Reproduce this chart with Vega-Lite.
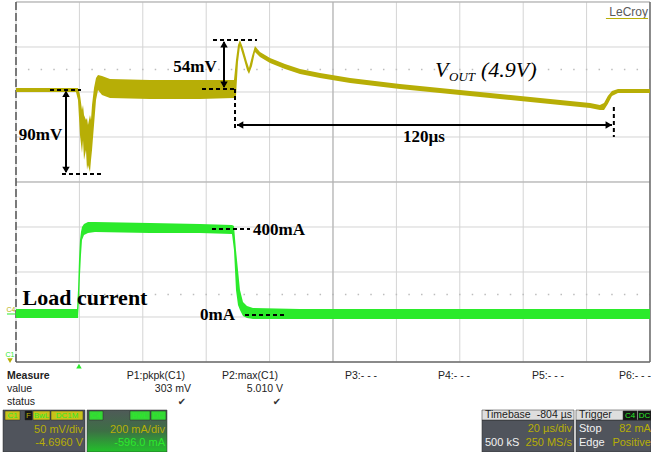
{
  "$schema": "https://vega.github.io/schema/vega-lite/v6.json",
  "width": 651,
  "height": 452,
  "padding": 0,
  "autosize": {"type": "none"},
  "background": "white",
  "config": {"view": {"stroke": null}},
  "datasets": {
    "trace": [
      {"ch":"C1","t":0,"hi":6.089,"lo":6.0},
      {"ch":"C1","t":18.93,"hi":6.089,"lo":6.0},
      {"ch":"C1","t":19.56,"hi":6.089,"lo":5.822},
      {"ch":"C1","t":20.19,"hi":5.933,"lo":5.044},
      {"ch":"C1","t":20.82,"hi":5.6,"lo":4.644},
      {"ch":"C1","t":21.14,"hi":5.711,"lo":4.933},
      {"ch":"C1","t":21.45,"hi":5.489,"lo":4.489},
      {"ch":"C1","t":22.08,"hi":5.378,"lo":4.711},
      {"ch":"C1","t":22.4,"hi":5.422,"lo":4.267},
      {"ch":"C1","t":22.71,"hi":5.267,"lo":4.378},
      {"ch":"C1","t":23.34,"hi":5.489,"lo":4.222},
      {"ch":"C1","t":23.66,"hi":5.378,"lo":4.489},
      {"ch":"C1","t":23.98,"hi":5.711,"lo":4.711},
      {"ch":"C1","t":24.61,"hi":6.089,"lo":5.267},
      {"ch":"C1","t":25.24,"hi":6.311,"lo":5.822},
      {"ch":"C1","t":25.87,"hi":6.378,"lo":6.044},
      {"ch":"C1","t":27.13,"hi":6.356,"lo":5.933},
      {"ch":"C1","t":29.65,"hi":6.289,"lo":5.867},
      {"ch":"C1","t":42.27,"hi":6.267,"lo":5.844},
      {"ch":"C1","t":58.04,"hi":6.267,"lo":5.844},
      {"ch":"C1","t":68.77,"hi":6.267,"lo":5.867},
      {"ch":"C1","t":69.4,"hi":6.711,"lo":5.911},
      {"ch":"C1","t":70.03,"hi":7.044,"lo":6.667},
      {"ch":"C1","t":70.66,"hi":7.156,"lo":7.022},
      {"ch":"C1","t":71.61,"hi":6.978,"lo":6.8},
      {"ch":"C1","t":72.87,"hi":6.667,"lo":6.489},
      {"ch":"C1","t":73.5,"hi":6.533,"lo":6.4},
      {"ch":"C1","t":74.45,"hi":6.8,"lo":6.578},
      {"ch":"C1","t":75.39,"hi":7.022,"lo":6.889},
      {"ch":"C1","t":76.97,"hi":6.889,"lo":6.778},
      {"ch":"C1","t":80.13,"hi":6.756,"lo":6.644},
      {"ch":"C1","t":84.86,"hi":6.622,"lo":6.511},
      {"ch":"C1","t":89.6,"hi":6.511,"lo":6.4},
      {"ch":"C1","t":95.9,"hi":6.422,"lo":6.311},
      {"ch":"C1","t":105.4,"hi":6.311,"lo":6.2},
      {"ch":"C1","t":121.1,"hi":6.178,"lo":6.067},
      {"ch":"C1","t":136.9,"hi":6.067,"lo":5.956},
      {"ch":"C1","t":152.7,"hi":5.956,"lo":5.844},
      {"ch":"C1","t":168.5,"hi":5.844,"lo":5.733},
      {"ch":"C1","t":181.1,"hi":5.756,"lo":5.644},
      {"ch":"C1","t":184.2,"hi":5.711,"lo":5.6},
      {"ch":"C1","t":185.5,"hi":5.756,"lo":5.6},
      {"ch":"C1","t":186.7,"hi":5.911,"lo":5.733},
      {"ch":"C1","t":188.0,"hi":6.022,"lo":5.911},
      {"ch":"C1","t":189.9,"hi":6.067,"lo":5.978},
      {"ch":"C1","t":200,"hi":6.067,"lo":5.978},
      {"ch":"C4","t":0,"hi":1.178,"lo":0.978},
      {"ch":"C4","t":19.24,"hi":1.178,"lo":0.978},
      {"ch":"C4","t":19.56,"hi":1.6,"lo":0.978},
      {"ch":"C4","t":19.87,"hi":2.267,"lo":1.378},
      {"ch":"C4","t":20.19,"hi":2.711,"lo":1.933},
      {"ch":"C4","t":20.5,"hi":2.889,"lo":2.378},
      {"ch":"C4","t":20.82,"hi":3.0,"lo":2.711},
      {"ch":"C4","t":21.45,"hi":3.067,"lo":2.822},
      {"ch":"C4","t":22.71,"hi":3.111,"lo":2.867},
      {"ch":"C4","t":24.92,"hi":3.111,"lo":2.889},
      {"ch":"C4","t":42.27,"hi":3.089,"lo":2.867},
      {"ch":"C4","t":58.04,"hi":3.067,"lo":2.867},
      {"ch":"C4","t":68.14,"hi":3.044,"lo":2.844},
      {"ch":"C4","t":68.77,"hi":3.022,"lo":2.489},
      {"ch":"C4","t":69.4,"hi":2.489,"lo":1.6},
      {"ch":"C4","t":70.03,"hi":2.044,"lo":1.267},
      {"ch":"C4","t":70.66,"hi":1.6,"lo":1.156},
      {"ch":"C4","t":71.61,"hi":1.333,"lo":1.022},
      {"ch":"C4","t":72.87,"hi":1.244,"lo":0.978},
      {"ch":"C4","t":74.76,"hi":1.2,"lo":0.956},
      {"ch":"C4","t":89.59,"hi":1.178,"lo":0.956},
      {"ch":"C4","t":200,"hi":1.178,"lo":0.956}
    ],
    "vgrid": [{"t":0},{"t":20},{"t":40},{"t":60},{"t":80},{"t":100},{"t":120},{"t":140},{"t":160},{"t":180},{"t":200}],
    "hgrid": [{"d":0},{"d":1},{"d":2},{"d":3},{"d":4},{"d":5},{"d":6},{"d":7},{"d":8}],
    "dots": [{"d":1.5},{"d":6.5}],
    "frame": [
      {"t1":0,"t2":200,"d1":8,"d2":8,"w":"light"},
      {"t1":100,"t2":100,"d1":0,"d2":8,"w":"light"},
      {"t1":0,"t2":200,"d1":4,"d2":4,"w":"light"},
      {"t1":200,"t2":200,"d1":0,"d2":8,"w":"dark"},
      {"t1":0,"t2":200,"d1":0,"d2":0,"w":"dark"}
    ],
    "dash": [
      {"t1":10.73,"t2":20.5,"d1":6.044,"d2":6.044},
      {"t1":14.51,"t2":27.45,"d1":4.178,"d2":4.178},
      {"t1":62.15,"t2":76.03,"d1":7.156,"d2":7.156},
      {"t1":58.68,"t2":69.09,"d1":6.067,"d2":6.067},
      {"t1":69.09,"t2":69.09,"d1":6.067,"d2":5.156},
      {"t1":188.6,"t2":188.6,"d1":5.667,"d2":5.0},
      {"t1":61.83,"t2":73.82,"d1":2.956,"d2":2.956},
      {"t1":72.24,"t2":84.86,"d1":1.044,"d2":1.044}
    ],
    "arrow": [
      {"t1":15.77,"t2":15.77,"d1":6.0,"d2":4.222},
      {"t1":65.62,"t2":65.62,"d1":7.111,"d2":6.111},
      {"t1":69.72,"t2":188.0,"d1":5.267,"d2":5.267}
    ],
    "head": [
      {"t":15.77,"d":5.96,"dir":"up"},
      {"t":15.77,"d":4.27,"dir":"down"},
      {"t":65.62,"d":7.06,"dir":"up"},
      {"t":65.62,"d":6.16,"dir":"down"},
      {"t":70.7,"d":5.267,"dir":"left"},
      {"t":187.0,"d":5.267,"dir":"right"}
    ],
    "notes": [
      {"kind":"b17c","t":7.73,"d":5.044,"text":"90mV"},
      {"kind":"b17c","t":56.47,"d":6.556,"text":"54mV"},
      {"kind":"b17c","t":128.71,"d":5.0,"text":"120µs"},
      {"kind":"b17c","t":63.57,"d":1.044,"text":"0mA"},
      {"kind":"b17l","t":74.76,"d":2.933,"text":"400mA"},
      {"kind":"b22c","t":21.77,"d":1.422,"text":"Load current"},
      {"kind":"i22l","t":132.18,"d":6.489,"text":"V"},
      {"kind":"i13l","t":136.6,"d":6.33,"text":"OUT"},
      {"kind":"i22l","t":146.7,"d":6.489,"text":"(4.9V)"}
    ],
    "marks": [
      {"kind":"lecroy","t":199.37,"d":7.778,"text":"LeCroy"},
      {"kind":"c4","t":-1.58,"d":1.156,"text":"C4"},
      {"kind":"c1","t":-1.89,"d":0.156,"text":"C1"}
    ],
    "smallrules": [
      {"t1":186.1,"t2":199.4,"d1":7.633,"d2":7.633,"c":"gray"},
      {"t1":-2.84,"t2":0,"d1":1.067,"d2":1.067,"c":"green"}
    ],
    "syms": [
      {"t":19.87,"d":-0.089,"c":"green","s":"up"},
      {"t":-1.89,"d":0.03,"c":"yellow","s":"down"}
    ],
    "boxes": [
      {"kind":"dark","t1":-4.1,"t2":21.77,"d1":-1.067,"d2":-2.0},
      {"kind":"dark","t1":147.0,"t2":176.03,"d1":-1.289,"d2":-2.0},
      {"kind":"dark","t1":176.66,"t2":200.32,"d1":-1.289,"d2":-2.0},
      {"kind":"head","t1":147.0,"t2":176.03,"d1":-1.067,"d2":-1.289},
      {"kind":"head","t1":176.66,"t2":200.32,"d1":-1.067,"d2":-1.289},
      {"kind":"tagY","t1":-3.47,"t2":1.26,"d1":-1.089,"d2":-1.289},
      {"kind":"tagK","t1":2.84,"t2":5.05,"d1":-1.089,"d2":-1.289},
      {"kind":"tagY","t1":5.36,"t2":10.73,"d1":-1.089,"d2":-1.289},
      {"kind":"tagY","t1":11.04,"t2":21.14,"d1":-1.089,"d2":-1.289},
      {"kind":"tagK","t1":191.5,"t2":195.9,"d1":-1.089,"d2":-1.289},
      {"kind":"tagK","t1":196.2,"t2":200.32,"d1":-1.089,"d2":-1.289}
    ],
    "c4box": [
      {"t1":22.4,"t2":47.63,"d1":-1.067,"d2":-2.0}
    ],
    "gtags": [
      {"t1":23.03,"t2":27.45,"d1":-1.089,"d2":-1.289},
      {"t1":35.96,"t2":42.27,"d1":-1.089,"d2":-1.289},
      {"t1":42.59,"t2":47.32,"d1":-1.089,"d2":-1.289}
    ],
    "panel": [
      {"kind":"hb","t":-2.84,"d":-0.311,"text":"Measure"},
      {"kind":"l","t":-2.84,"d":-0.6,"text":"value"},
      {"kind":"l","t":-2.84,"d":-0.889,"text":"status"},
      {"kind":"r","t":53.31,"d":-0.311,"text":"P1:pkpk(C1)"},
      {"kind":"r","t":55.21,"d":-0.6,"text":"303 mV"},
      {"kind":"chk","t":52.37,"d":-0.889,"text":"✔"},
      {"kind":"r","t":82.65,"d":-0.311,"text":"P2:max(C1)"},
      {"kind":"r","t":84.23,"d":-0.6,"text":"5.010 V"},
      {"kind":"chk","t":82.34,"d":-0.889,"text":"✔"},
      {"kind":"l","t":103.79,"d":-0.311,"text":"P3:- - -"},
      {"kind":"l","t":133.12,"d":-0.311,"text":"P4:- - -"},
      {"kind":"l","t":162.78,"d":-0.311,"text":"P5:- - -"},
      {"kind":"l","t":190.2,"d":-0.311,"text":"P6:- - -"},
      {"kind":"tk","t":-1.1,"d":-1.189,"text":"C1"},
      {"kind":"ty","t":3.94,"d":-1.189,"text":"F"},
      {"kind":"tk","t":8.04,"d":-1.189,"text":"BwL"},
      {"kind":"tk","t":16.09,"d":-1.189,"text":"DC1M"},
      {"kind":"tk","t":25.24,"d":-1.189,"text":"C4"},
      {"kind":"tk","t":39.12,"d":-1.189,"text":"BwL"},
      {"kind":"tk","t":44.95,"d":-1.189,"text":"DC"},
      {"kind":"tg","t":193.7,"d":-1.189,"text":"C4"},
      {"kind":"tg","t":198.3,"d":-1.189,"text":"DC"},
      {"kind":"wr","t":21.14,"d":-1.511,"text":"50 mV/div"},
      {"kind":"wr","t":21.14,"d":-1.8,"text":"-4.6960 V"},
      {"kind":"wr","t":47.0,"d":-1.511,"text":"200 mA/div"},
      {"kind":"gr","t":47.0,"d":-1.8,"text":"-596.0 mA"},
      {"kind":"hl","t":147.95,"d":-1.178,"text":"Timebase"},
      {"kind":"hr","t":175.4,"d":-1.178,"text":"-804 µs"},
      {"kind":"wr","t":175.4,"d":-1.489,"text":"20 µs/div"},
      {"kind":"wl","t":147.95,"d":-1.8,"text":"500 kS"},
      {"kind":"wr","t":175.4,"d":-1.8,"text":"250 MS/s"},
      {"kind":"hl","t":177.6,"d":-1.178,"text":"Trigger"},
      {"kind":"wl","t":177.6,"d":-1.489,"text":"Stop"},
      {"kind":"wr","t":200.3,"d":-1.489,"text":"82 mA"},
      {"kind":"wl","t":177.6,"d":-1.8,"text":"Edge"},
      {"kind":"wr","t":200.3,"d":-1.8,"text":"Positive"}
    ]
  },
  "layer": [
    {
      "data": {"name": "vgrid"},
      "mark": {"type": "rule", "color": "#d4d4d4", "strokeWidth": 1},
      "encoding": {
        "x": {"field": "t", "type": "quantitative",
              "scale": {"domain": [-5.047, 200.32], "nice": false, "zero": false},
              "axis": {"title": null, "labels": false, "domain": false, "grid": false, "ticks": true,
                       "tickSize": 4, "tickColor": "#999", "tickWidth": 1, "offset": -272,
                       "values": [0,4,8,12,16,20,24,28,32,36,40,44,48,52,56,60,64,68,72,76,80,84,88,92,96,100,104,108,112,116,120,124,128,132,136,140,144,148,152,156,160,164,168,172,176,180,184,188,192,196,200]}},
        "y": {"datum": 0, "type": "quantitative",
              "scale": {"domain": [-2, 8.0444], "nice": false, "zero": false},
              "axis": {"title": null, "labels": false, "domain": false, "grid": false, "ticks": true,
                       "tickSize": 4, "tickColor": "#999", "tickWidth": 1, "offset": -335,
                       "values": [0,0.2,0.4,0.6,0.8,1,1.2,1.4,1.6,1.8,2,2.2,2.4,2.6,2.8,3,3.2,3.4,3.6,3.8,4,4.2,4.4,4.6,4.8,5,5.2,5.4,5.6,5.8,6,6.2,6.4,6.6,6.8,7,7.2,7.4,7.6,7.8,8]}},
        "y2": {"datum": 8}
      }
    },
    {
      "data": {"name": "hgrid"},
      "mark": {"type": "rule", "color": "#d4d4d4", "strokeWidth": 1},
      "encoding": {
        "y": {"field": "d", "type": "quantitative", "axis": null},
        "x": {"datum": 0, "type": "quantitative", "axis": null},
        "x2": {"datum": 200}
      }
    },
    {
      "data": {"name": "dots"},
      "mark": {"type": "rule", "color": "#bdbdbd", "strokeWidth": 1.5, "strokeDash": [1.5, 11.18], "strokeDashOffset": 0.75},
      "encoding": {
        "y": {"field": "d", "type": "quantitative", "axis": null},
        "x": {"datum": 0, "type": "quantitative", "axis": null},
        "x2": {"datum": 200}
      }
    },
    {
      "data": {"name": "frame"},
      "transform": [{"filter": "datum.w == 'light'"}],
      "mark": {"type": "rule", "color": "#b0b0b0", "strokeWidth": 1},
      "encoding": {
        "x": {"field": "t1", "type": "quantitative", "axis": null},
        "x2": {"field": "t2"},
        "y": {"field": "d1", "type": "quantitative", "axis": null},
        "y2": {"field": "d2"}
      }
    },
    {
      "data": {"name": "frame"},
      "transform": [{"filter": "datum.w == 'dark'"}],
      "mark": {"type": "rule", "color": "#6a6a6a", "strokeWidth": 1.5},
      "encoding": {
        "x": {"field": "t1", "type": "quantitative", "axis": null},
        "x2": {"field": "t2"},
        "y": {"field": "d1", "type": "quantitative", "axis": null},
        "y2": {"field": "d2"}
      }
    },
    {
      "data": {"values": [{"t": 0}]},
      "mark": {"type": "rule", "color": "#555", "strokeWidth": 1.5, "strokeDash": [8, 3]},
      "encoding": {
        "x": {"field": "t", "type": "quantitative", "axis": null},
        "y": {"datum": 0, "type": "quantitative", "axis": null},
        "y2": {"datum": 8}
      }
    },
    {
      "data": {"name": "trace"},
      "mark": {"type": "area", "interpolate": "linear"},
      "encoding": {
        "x": {"field": "t", "type": "quantitative", "axis": null},
        "y": {"field": "hi", "type": "quantitative", "axis": null},
        "y2": {"field": "lo"},
        "color": {"field": "ch", "type": "nominal", "legend": null,
                  "scale": {"domain": ["C1", "C4"], "range": ["#b7ae06", "#2bea2b"]}}
      }
    },
    {
      "data": {"name": "dash"},
      "mark": {"type": "rule", "color": "#000", "strokeWidth": 2, "strokeDash": [4, 3]},
      "encoding": {
        "x": {"field": "t1", "type": "quantitative", "axis": null},
        "x2": {"field": "t2"},
        "y": {"field": "d1", "type": "quantitative", "axis": null},
        "y2": {"field": "d2"}
      }
    },
    {
      "data": {"name": "arrow"},
      "mark": {"type": "rule", "color": "#000", "strokeWidth": 2},
      "encoding": {
        "x": {"field": "t1", "type": "quantitative", "axis": null},
        "x2": {"field": "t2"},
        "y": {"field": "d1", "type": "quantitative", "axis": null},
        "y2": {"field": "d2"}
      }
    },
    {
      "data": {"name": "head"},
      "mark": {"type": "point", "filled": true, "color": "#000", "size": 55, "opacity": 1},
      "encoding": {
        "x": {"field": "t", "type": "quantitative", "axis": null},
        "y": {"field": "d", "type": "quantitative", "axis": null},
        "shape": {"field": "dir", "type": "nominal", "legend": null,
                  "scale": {"domain": ["up", "down", "left", "right"], "range": ["triangle-up", "triangle-down", "triangle-left", "triangle-right"]}}
      }
    },
    {
      "data": {"name": "notes"},
      "transform": [{"filter": "datum.kind == 'b17c'"}],
      "mark": {"type": "text", "font": "Liberation Serif", "fontWeight": "bold", "fontSize": 17, "align": "center", "baseline": "middle", "color": "#000"},
      "encoding": {
        "x": {"field": "t", "type": "quantitative", "axis": null},
        "y": {"field": "d", "type": "quantitative", "axis": null},
        "text": {"field": "text"}
      }
    },
    {
      "data": {"name": "notes"},
      "transform": [{"filter": "datum.kind == 'b17l'"}],
      "mark": {"type": "text", "font": "Liberation Serif", "fontWeight": "bold", "fontSize": 17, "align": "left", "baseline": "middle", "color": "#000"},
      "encoding": {
        "x": {"field": "t", "type": "quantitative", "axis": null},
        "y": {"field": "d", "type": "quantitative", "axis": null},
        "text": {"field": "text"}
      }
    },
    {
      "data": {"name": "notes"},
      "transform": [{"filter": "datum.kind == 'b22c'"}],
      "mark": {"type": "text", "font": "Liberation Serif", "fontWeight": "bold", "fontSize": 22, "align": "center", "baseline": "middle", "color": "#000"},
      "encoding": {
        "x": {"field": "t", "type": "quantitative", "axis": null},
        "y": {"field": "d", "type": "quantitative", "axis": null},
        "text": {"field": "text"}
      }
    },
    {
      "data": {"name": "notes"},
      "transform": [{"filter": "datum.kind == 'i22l'"}],
      "mark": {"type": "text", "font": "Liberation Serif", "fontStyle": "italic", "fontSize": 22, "align": "left", "baseline": "middle", "color": "#000"},
      "encoding": {
        "x": {"field": "t", "type": "quantitative", "axis": null},
        "y": {"field": "d", "type": "quantitative", "axis": null},
        "text": {"field": "text"}
      }
    },
    {
      "data": {"name": "notes"},
      "transform": [{"filter": "datum.kind == 'i13l'"}],
      "mark": {"type": "text", "font": "Liberation Serif", "fontStyle": "italic", "fontSize": 13, "align": "left", "baseline": "middle", "color": "#000"},
      "encoding": {
        "x": {"field": "t", "type": "quantitative", "axis": null},
        "y": {"field": "d", "type": "quantitative", "axis": null},
        "text": {"field": "text"}
      }
    },
    {
      "data": {"name": "marks"},
      "transform": [{"filter": "datum.kind == 'lecroy'"}],
      "mark": {"type": "text", "font": "Liberation Sans", "fontSize": 12, "align": "right", "baseline": "middle", "color": "#5a5a5a"},
      "encoding": {
        "x": {"field": "t", "type": "quantitative", "axis": null},
        "y": {"field": "d", "type": "quantitative", "axis": null},
        "text": {"field": "text"}
      }
    },
    {
      "data": {"name": "marks"},
      "transform": [{"filter": "datum.kind != 'lecroy'"}],
      "mark": {"type": "text", "font": "Liberation Sans", "fontSize": 7, "align": "center", "baseline": "middle"},
      "encoding": {
        "x": {"field": "t", "type": "quantitative", "axis": null},
        "y": {"field": "d", "type": "quantitative", "axis": null},
        "text": {"field": "text"},
        "color": {"field": "kind", "type": "nominal", "legend": null,
                  "scale": {"domain": ["c4", "c1"], "range": ["#2bd12b", "#b7ae06"]}}
      }
    },
    {
      "data": {"name": "smallrules"},
      "mark": {"type": "rule", "strokeWidth": 1},
      "encoding": {
        "x": {"field": "t1", "type": "quantitative", "axis": null},
        "x2": {"field": "t2"},
        "y": {"field": "d1", "type": "quantitative", "axis": null},
        "y2": {"field": "d2"},
        "color": {"field": "c", "type": "nominal", "legend": null,
                  "scale": {"domain": ["gray", "green", "yellow"], "range": ["#5a5a5a", "#2bd12b", "#b7ae06"]}}
      }
    },
    {
      "data": {"name": "syms"},
      "mark": {"type": "point", "filled": true, "size": 30, "opacity": 1},
      "encoding": {
        "x": {"field": "t", "type": "quantitative", "axis": null},
        "y": {"field": "d", "type": "quantitative", "axis": null},
        "shape": {"field": "s", "type": "nominal", "legend": null,
                  "scale": {"domain": ["up", "down"], "range": ["triangle-up", "triangle-down"]}},
        "color": {"field": "c", "type": "nominal", "legend": null,
                  "scale": {"domain": ["gray", "green", "yellow"], "range": ["#5a5a5a", "#2bd12b", "#b7ae06"]}}
      }
    },
    {
      "data": {"name": "boxes"},
      "mark": {"type": "rect", "stroke": "#2a2a2a", "strokeWidth": 0.5},
      "encoding": {
        "x": {"field": "t1", "type": "quantitative", "axis": null},
        "x2": {"field": "t2"},
        "y": {"field": "d1", "type": "quantitative", "axis": null},
        "y2": {"field": "d2"},
        "fill": {"field": "kind", "type": "nominal", "legend": null,
                 "scale": {"domain": ["dark", "head", "tagY", "tagK"], "range": ["#50545c", "#dedede", "#c9c11a", "#151515"]}}
      }
    },
    {
      "data": {"name": "c4box"},
      "mark": {"type": "rect", "stroke": "#2a2a2a", "strokeWidth": 0.5,
               "fill": {"gradient": "linear", "x1": 0, "y1": 0, "x2": 0, "y2": 1,
                        "stops": [{"offset": 0, "color": "#4f5a58"}, {"offset": 0.5, "color": "#3d6f45"}, {"offset": 1, "color": "#22c22a"}]}},
      "encoding": {
        "x": {"field": "t1", "type": "quantitative", "axis": null},
        "x2": {"field": "t2"},
        "y": {"field": "d1", "type": "quantitative", "axis": null},
        "y2": {"field": "d2"}
      }
    },
    {
      "data": {"name": "gtags"},
      "mark": {"type": "rect", "stroke": "#2a2a2a", "strokeWidth": 0.5, "fill": "#36d636"},
      "encoding": {
        "x": {"field": "t1", "type": "quantitative", "axis": null},
        "x2": {"field": "t2"},
        "y": {"field": "d1", "type": "quantitative", "axis": null},
        "y2": {"field": "d2"}
      }
    },
    {
      "data": {"name": "panel"},
      "transform": [{"filter": "datum.kind == 'hb'"}],
      "mark": {"type": "text", "font": "Liberation Sans", "fontWeight": "bold", "fontSize": 10.5, "align": "left", "baseline": "middle", "color": "#222"},
      "encoding": {
        "x": {"field": "t", "type": "quantitative", "axis": null},
        "y": {"field": "d", "type": "quantitative", "axis": null},
        "text": {"field": "text"}
      }
    },
    {
      "data": {"name": "panel"},
      "transform": [{"filter": "datum.kind == 'l' || datum.kind == 'hl'"}],
      "mark": {"type": "text", "font": "Liberation Sans", "fontSize": 10.5, "align": "left", "baseline": "middle", "color": "#222"},
      "encoding": {
        "x": {"field": "t", "type": "quantitative", "axis": null},
        "y": {"field": "d", "type": "quantitative", "axis": null},
        "text": {"field": "text"}
      }
    },
    {
      "data": {"name": "panel"},
      "transform": [{"filter": "datum.kind == 'r' || datum.kind == 'hr'"}],
      "mark": {"type": "text", "font": "Liberation Sans", "fontSize": 10.5, "align": "right", "baseline": "middle", "color": "#222"},
      "encoding": {
        "x": {"field": "t", "type": "quantitative", "axis": null},
        "y": {"field": "d", "type": "quantitative", "axis": null},
        "text": {"field": "text"}
      }
    },
    {
      "data": {"name": "panel"},
      "transform": [{"filter": "datum.kind == 'chk'"}],
      "mark": {"type": "text", "font": "DejaVu Sans", "fontSize": 10, "align": "center", "baseline": "middle", "color": "#333"},
      "encoding": {
        "x": {"field": "t", "type": "quantitative", "axis": null},
        "y": {"field": "d", "type": "quantitative", "axis": null},
        "text": {"field": "text"}
      }
    },
    {
      "data": {"name": "panel"},
      "transform": [{"filter": "datum.kind == 'tk' || datum.kind == 'ty' || datum.kind == 'tg'"}],
      "mark": {"type": "text", "font": "Liberation Sans", "fontSize": 8, "align": "center", "baseline": "middle"},
      "encoding": {
        "x": {"field": "t", "type": "quantitative", "axis": null},
        "y": {"field": "d", "type": "quantitative", "axis": null},
        "text": {"field": "text"},
        "color": {"field": "kind", "type": "nominal", "legend": null,
                  "scale": {"domain": ["tk", "ty", "tg"], "range": ["#111", "#c9c11a", "#9adf9a"]}}
      }
    },
    {
      "data": {"name": "panel"},
      "transform": [{"filter": "datum.kind == 'wr' || datum.kind == 'gr'"}],
      "mark": {"type": "text", "font": "Liberation Sans", "fontSize": 11, "align": "right", "baseline": "middle"},
      "encoding": {
        "x": {"field": "t", "type": "quantitative", "axis": null},
        "y": {"field": "d", "type": "quantitative", "axis": null},
        "text": {"field": "text"},
        "color": {"field": "kind", "type": "nominal", "legend": null,
                  "scale": {"domain": ["wr", "gr"], "range": ["#f2f2f2", "#c8f5c8"]}}
      }
    },
    {
      "data": {"name": "panel"},
      "transform": [{"filter": "datum.kind == 'wl'"}],
      "mark": {"type": "text", "font": "Liberation Sans", "fontSize": 11, "align": "left", "baseline": "middle", "color": "#f2f2f2"},
      "encoding": {
        "x": {"field": "t", "type": "quantitative", "axis": null},
        "y": {"field": "d", "type": "quantitative", "axis": null},
        "text": {"field": "text"}
      }
    }
  ]
}
